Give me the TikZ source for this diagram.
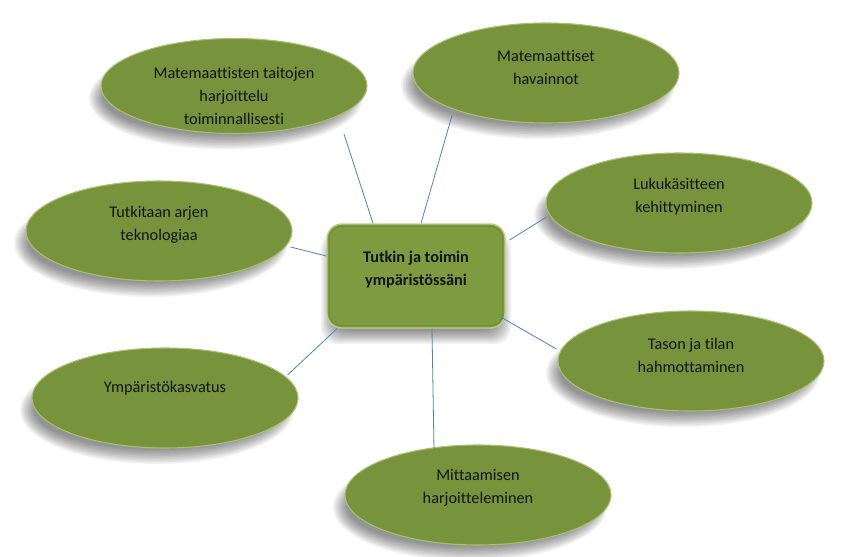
\documentclass[tikz,border=0pt]{standalone}
\usepackage{fontspec}
\setmainfont{Carlito}[Ligatures=NoCommon]
\usetikzlibrary{shapes.geometric,calc}
\definecolor{oliveFill}{HTML}{77933C}
\definecolor{oliveRim}{HTML}{A8C070}
\definecolor{boxFill}{HTML}{7F9B40}
\definecolor{boxRim}{HTML}{BFD08E}
\definecolor{boxInner}{HTML}{6A8432}
\definecolor{linkblue}{HTML}{4F81BD}
\tikzset{
  bubble/.style={ellipse, fill=oliveFill, draw=oliveRim, line width=0.8pt,
    minimum width=199.5pt, minimum height=75pt, inner sep=0pt},
  btext/.style={font=\fontsize{12.2}{17.25}\selectfont, align=center, text=black!92},
  hub/.style={rectangle, rounded corners=11pt, fill=boxFill, draw=boxRim, line width=1pt,
    minimum width=133.5pt, minimum height=78pt, inner sep=0pt},
  link/.style={draw=linkblue, line width=0.6pt},
  shadowfill/.style={fill=black, opacity=0.05}
}
\begin{document}
\begin{tikzpicture}[x=0.75pt,y=-0.75pt]
\useasboundingbox[fill=white] (0,0) rectangle (844,557);
% soft shadows of the ellipses
\foreach \cx/\cy/\ry in {234/86/47.5,546/73/50,679/203/50,159/231/50,691/361/50,165/398/50,478/495/50}{
  \foreach \k in {0,...,9}{
    \fill[shadowfill] (\cx-8,\cy+12) ellipse [x radius={137-1.6*\k}, y radius={\ry+4-1.6*\k}];
  }
}
% soft shadow of the centre box
\foreach \k in {0,...,9}{
  \fill[shadowfill, rounded corners=12pt] (327-6+1.5*\k,224+8+1.5*\k) rectangle (505+6-1.5*\k,328+16-1.5*\k);
}
% nodes
\node[bubble, minimum height=71.25pt, label={[btext, yshift=-7.5pt]center:{Matemaattisten taitojen\\harjoittelu\\toiminnallisesti}}] (e1) at (234,86) {};
\node[bubble, label={[btext, yshift=4.5pt]center:{Matemaattiset\\havainnot}}] (e2) at (546,73) {};
\node[bubble, label={[btext, yshift=4.5pt]center:{Lukukäsitteen\\kehittyminen}}] (e3) at (679,203) {};
\node[bubble, label={[btext, yshift=4.5pt]center:{Tutkitaan arjen\\teknologiaa}}] (e4) at (159,231) {};
\node[bubble, label={[btext, yshift=4.5pt]center:{Tason ja tilan\\hahmottaminen}}] (e5) at (691,361) {};
\node[bubble, label={[btext, yshift=7.5pt]center:{Ympäristökasvatus}}] (e6) at (165,398) {};
\node[bubble, label={[btext, yshift=5.5pt]center:{Mittaamisen\\harjoitteleminen}}] (e7) at (478,495) {};
\node[hub, label={[btext, font=\bfseries\fontsize{12.2}{17.25}\selectfont, yshift=4.5pt]center:{Tutkin ja toimin\\ympäristössäni}}] (c) at (416,276) {};
\draw[boxInner, line width=0.8pt, rounded corners=9pt, opacity=0.6] ($(c.north west)+(3,3)$) rectangle ($(c.south east)+(-3,-3)$);
% connectors
\draw[link] ($(c.north)+(-43,0)$) -- ($(e1.south)+(110,0)$);
\draw[link] ($(c.north)+(5,0)$) -- ($(e2.south)+(-94,-8)$);
\draw[link] ($(c.east)+(4,-36)$) -- ($(e3.west)+(1,14)$);
\draw[link] ($(c.west)+(0,-20)$) -- ($(e4.east)+(-2,16)$);
\draw[link] ($(c.east)+(-5,41)$) -- ($(e5.west)+(-1,-12)$);
\draw[link] ($(c.south)+(-79,0)$) -- ($(e6.east)+(-11,-23)$);
\draw[link] ($(c.south)+(16,0)$) -- ($(e7.north)+(-44,5)$);
\end{tikzpicture}
\end{document}
